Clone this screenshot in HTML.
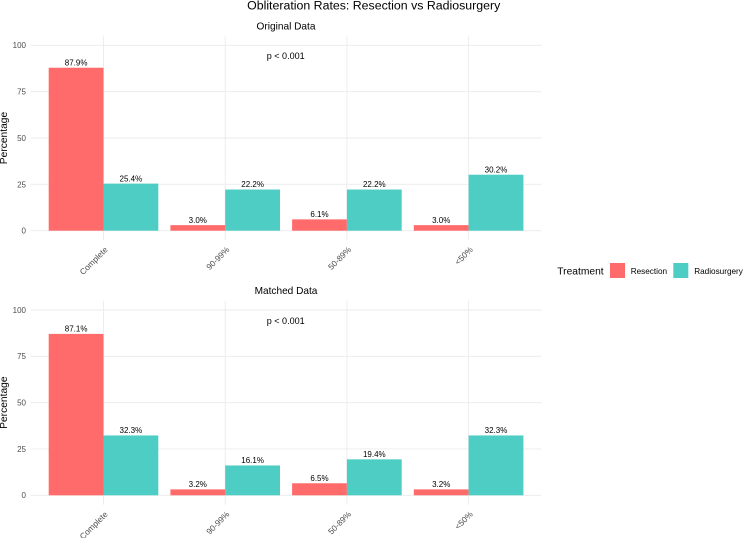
<!DOCTYPE html>
<html>
<head>
<meta charset="utf-8">
<style>
html,body{margin:0;padding:0;background:#fff;width:743px;height:538px;overflow:hidden}
svg{display:block}
text{font-family:"Liberation Sans",sans-serif}
</style>
</head>
<body>
<svg id="chart" xmlns="http://www.w3.org/2000/svg" width="743" height="538" viewBox="0 0 743 538">
<rect width="743" height="538" fill="#ffffff"/>
<text x="373.7" y="9.4" font-size="12.35" text-anchor="middle" fill="#000">Obliteration Rates: Resection vs Radiosurgery</text>
<g id="panels"></g>
<g>
<text x="557.3" y="274.5" font-size="10.25" fill="#000">Treatment</text>
<rect x="610" y="263" width="15" height="15" fill="#FF6B6B"/>
<text x="630.7" y="273.8" font-size="8.2" fill="#000">Resection</text>
<rect x="673.3" y="263" width="15" height="15" fill="#4ECDC4"/>
<text x="694.2" y="273.8" font-size="8.2" fill="#000">Radiosurgery</text>
</g>
</svg>
<script>
const categories = ['Complete', '90-99%', '50-89%', '<50%'];
const yTicks = [0, 25, 50, 75, 100];
const originalResection = [87.9, 3.0, 6.1, 3.0];
const originalRadiosurgery = [25.4, 22.2, 22.2, 30.2];
const matchedResection = [87.1, 3.2, 6.5, 3.2];
const matchedRadiosurgery = [32.3, 16.1, 19.4, 32.3];
const pValueLabel = 'p < 0.001';

const NS = 'http://www.w3.org/2000/svg';
const root = document.getElementById('panels');
const COLORS = { resection: '#FF6B6B', radiosurgery: '#4ECDC4' };
const LEFT = 30.5, RIGHT = 541.5, STEP = 121.7, FIRST = 103.5, BAR = 54.8;

function make(parent, tag, attrs, text) {
  const el = document.createElementNS(NS, tag);
  for (const k in attrs) el.setAttribute(k, attrs[k]);
  if (text !== undefined) el.textContent = text;
  parent.appendChild(el);
  return el;
}
function xScale(i) { return FIRST + STEP * i; }

function drawPanel(key, title, titleX, titleY, top, y0, y100, bottom, resection, radiosurgery) {
  const yScale = v => y0 + (y100 - y0) * v / 100;
  const g = make(root, 'g', {});
  
  

  const t = make(g, 'text', { x: titleX, y: titleY, 'font-size': 10.1, 'text-anchor': 'middle', fill: '#000' }, title);
  
  

  yTicks.forEach(v => {
    const line = make(g, 'line', { x1: LEFT, x2: RIGHT, y1: yScale(v), y2: yScale(v), stroke: '#ebebeb', 'stroke-width': 0.9 });
    
    
    const lab = make(g, 'text', { x: 26, y: yScale(v) + 2.9, 'font-size': 8, 'text-anchor': 'end', fill: '#4d4d4d' }, String(v));
    
    
  });

  categories.forEach((c, i) => {
    const line = make(g, 'line', { x1: xScale(i), x2: xScale(i), y1: top, y2: bottom, stroke: '#ebebeb', 'stroke-width': 0.9 });
    
    
  });

  const yTitleY = (y0 + y100) / 2;
  const yt = make(g, 'text', { x: 0, y: 0, 'font-size': 10.25, 'text-anchor': 'middle', fill: '#000', transform: 'translate(6.8,' + yTitleY + ') rotate(-90)' }, 'Percentage');
  
  

  categories.forEach((c, i) => {
    const a = resection[i], b = radiosurgery[i], cx = xScale(i);
    const r1 = make(g, 'rect', { x: cx - BAR, y: yScale(a), width: BAR, height: y0 - yScale(a), fill: COLORS.resection });
    
    
    const r2 = make(g, 'rect', { x: cx, y: yScale(b), width: BAR, height: y0 - yScale(b), fill: COLORS.radiosurgery });
    
    
    const l1 = make(g, 'text', { x: cx - BAR / 2, y: yScale(a) - 2.3, 'font-size': 8, 'text-anchor': 'middle', fill: '#000' }, a.toFixed(1) + '%');
    
    
    const l2 = make(g, 'text', { x: cx + BAR / 2, y: yScale(b) - 2.3, 'font-size': 8, 'text-anchor': 'middle', fill: '#000' }, b.toFixed(1) + '%');
    
    
    const tick = make(g, 'text', { x: 0, y: 0, 'font-size': 8.3, 'text-anchor': 'end', fill: '#4d4d4d', transform: 'translate(' + (cx + 4.8) + ',' + (bottom + 10.2) + ') rotate(-45)' }, c);
    
    
  });

  const p = make(g, 'text', { x: 285.7, y: yScale(92.5), 'font-size': 9.05, 'text-anchor': 'middle', fill: '#000' }, pValueLabel);
  
  
}

drawPanel('original', 'Original Data', 286, 29.3, 36.5, 230.7, 45.3, 240, originalResection, originalRadiosurgery);
drawPanel('matched', 'Matched Data', 286, 294, 300.7, 495.3, 310, 504.6, matchedResection, matchedRadiosurgery);
</script>
</body>
</html>
